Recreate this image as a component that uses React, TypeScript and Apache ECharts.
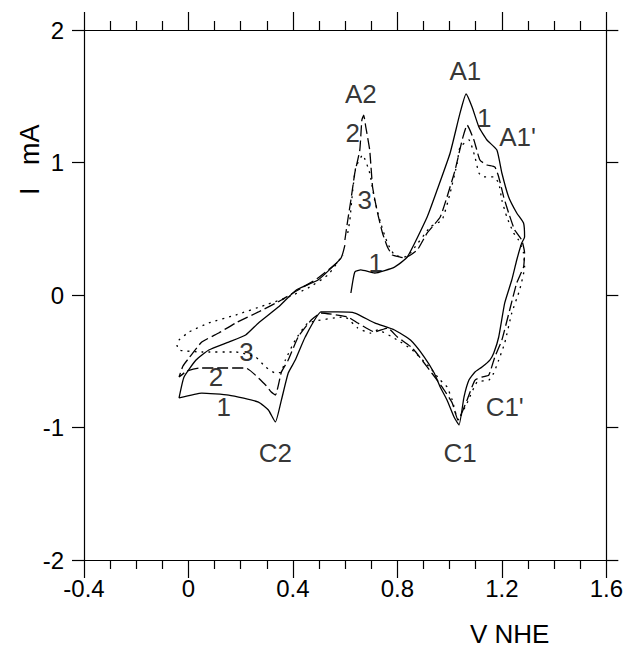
import React, { useEffect, useRef } from "react";
import * as echarts from "echarts";

const FONT = "'Liberation Sans', Arial, Helvetica, sans-serif";

// Cycle 1 (solid)
const cycle1: number[][] = [
  [0.622, 0.015], [0.637, 0.174], [0.66, 0.189], [0.713, 0.166], [0.789, 0.211], [0.838, 0.287],
  [0.914, 0.589], [0.952, 0.792], [1.002, 1.072], [1.04, 1.374], [1.063, 1.517], [1.086, 1.419],
  [1.112, 1.268], [1.143, 1.17], [1.181, 1.094], [1.2, 0.921], [1.226, 0.74], [1.257, 0.619],
  [1.283, 0.543], [1.287, 0.438], [1.276, 0.392], [1.257, 0.264], [1.238, 0.113], [1.211, -0.06],
  [1.188, -0.317], [1.169, -0.438], [1.154, -0.491], [1.124, -0.543], [1.097, -0.581], [1.074, -0.642],
  [1.055, -0.77], [1.036, -0.981], [1.017, -0.921], [0.99, -0.792], [0.964, -0.694], [0.941, -0.589],
  [0.903, -0.468], [0.85, -0.34], [0.789, -0.264], [0.713, -0.211], [0.637, -0.136], [0.572, -0.128],
  [0.508, -0.128], [0.447, -0.317], [0.409, -0.491], [0.382, -0.589], [0.356, -0.792], [0.333, -0.958],
  [0.306, -0.868], [0.268, -0.808], [0.154, -0.755], [0.051, -0.74], [-0.036, -0.777], [-0.017, -0.619],
  [0.029, -0.491], [0.078, -0.415], [0.154, -0.355], [0.219, -0.302], [0.268, -0.211], [0.344, -0.091],
  [0.413, 0.038], [0.496, 0.113], [0.584, 0.279], [0.599, 0.377],
];

// Cycle 2 (dashed)
const cycle2: number[][] = [
  [0.599, 0.415], [0.61, 0.566], [0.622, 0.717], [0.637, 0.921], [0.656, 1.094], [0.664, 1.321],
  [0.671, 1.358], [0.679, 1.268], [0.694, 1.094], [0.705, 0.815], [0.724, 0.619], [0.743, 0.468],
  [0.762, 0.362], [0.781, 0.302], [0.808, 0.287], [0.827, 0.279], [0.876, 0.34], [0.914, 0.468],
  [0.964, 0.589], [0.99, 0.74], [1.021, 0.943], [1.048, 1.17], [1.067, 1.283], [1.093, 1.17],
  [1.116, 1.019], [1.143, 0.981], [1.173, 0.966], [1.188, 0.891], [1.207, 0.74], [1.226, 0.619],
  [1.249, 0.491], [1.276, 0.415], [1.287, 0.317], [1.283, 0.211], [1.257, 0.091], [1.23, -0.113],
  [1.2, -0.34], [1.173, -0.468], [1.15, -0.604], [1.124, -0.619], [1.097, -0.642], [1.067, -0.792],
  [1.04, -0.921], [1.032, -0.943], [1.01, -0.815], [0.979, -0.717], [0.952, -0.642], [0.914, -0.543],
  [0.857, -0.4], [0.8, -0.317], [0.762, -0.249], [0.713, -0.279], [0.648, -0.211], [0.61, -0.166],
  [0.508, -0.136], [0.47, -0.189], [0.42, -0.317], [0.382, -0.491], [0.356, -0.581], [0.333, -0.755],
  [0.317, -0.732], [0.295, -0.679], [0.219, -0.551], [0.127, -0.551], [0.04, -0.551], [-0.006, -0.574],
  [-0.036, -0.619], [-0.021, -0.536], [0.002, -0.475], [0.051, -0.355], [0.116, -0.287], [0.181, -0.211],
  [0.268, -0.128], [0.356, -0.038], [0.413, 0.03], [0.496, 0.128], [0.572, 0.249],
];

// Cycle 3 (dotted)
const cycle3: number[][] = [
  [0.61, 0.468], [0.618, 0.566], [0.629, 0.792], [0.641, 0.966], [0.667, 1.057], [0.694, 0.921],
  [0.713, 0.717], [0.736, 0.543], [0.762, 0.392], [0.789, 0.302], [0.827, 0.287], [0.85, 0.317],
  [0.926, 0.513], [0.971, 0.566], [1.002, 0.77], [1.029, 0.996], [1.04, 1.117], [1.074, 1.17],
  [1.097, 1.042], [1.112, 0.921], [1.131, 0.891], [1.169, 0.891], [1.188, 0.845], [1.2, 0.717],
  [1.219, 0.589], [1.245, 0.468], [1.264, 0.415], [1.283, 0.317], [1.287, 0.211], [1.268, 0.038],
  [1.238, -0.136], [1.211, -0.362], [1.188, -0.491], [1.169, -0.589], [1.15, -0.642], [1.105, -0.657],
  [1.067, -0.815], [1.04, -0.921], [1.032, -0.943], [1.01, -0.792], [0.99, -0.694], [0.964, -0.642],
  [0.926, -0.551], [0.857, -0.415], [0.8, -0.34], [0.724, -0.264], [0.698, -0.287], [0.648, -0.249],
  [0.599, -0.166], [0.458, -0.211], [0.409, -0.34], [0.371, -0.491], [0.356, -0.581], [0.333, -0.589],
  [0.295, -0.543], [0.257, -0.468], [0.181, -0.43], [0.051, -0.43], [-0.036, -0.415], [-0.044, -0.377],
  [-0.036, -0.34], [0.002, -0.279], [0.078, -0.211], [0.181, -0.151], [0.295, -0.075], [0.382, -0.015],
  [0.458, 0.053], [0.534, 0.151], [0.591, 0.302],
];

// Peak / curve annotations: [V, I, text]
const annotations: [number, number, string][] = [
  [0.66, 1.52, "A2"],
  [1.06, 1.69, "A1"],
  [1.133, 1.336, "1"],
  [1.26, 1.19, "A1'"],
  [0.629, 1.223, "2"],
  [0.675, 0.717, "3"],
  [0.717, 0.242, "1"],
  [0.222, -0.43, "3"],
  [0.105, -0.619, "2"],
  [0.135, -0.845, "1"],
  [0.333, -1.19, "C2"],
  [1.04, -1.19, "C1"],
  [1.211, -0.845, "C1'"],
];

const xTicks = { min: -0.4, max: 1.6, interval: 0.4 };
const yTicks = { min: -2, max: 2, interval: 1 };
const xTitle = "V NHE";
const yTitle = "I   mA";

export default function App() {
  const ref = useRef<HTMLDivElement>(null);
  useEffect(() => {
    if (!ref.current) return;
    const chart = echarts.init(ref.current, undefined, { renderer: "svg" });
    const axisLine = { show: true, onZero: false, lineStyle: { color: "#000", width: 1.2 } };
    const tickStyle = { color: "#000", width: 1.2 };
    const lineSeries = (name: string, data: number[][], type: any) => ({
      name,
      type: "line",
      data,
      showSymbol: false,
      symbol: "none",
      smooth: 0.15,
      lineStyle: { color: "#000", width: 1.3, type },
      z: 3,
    });
    chart.setOption({
      animation: false,
      backgroundColor: "#fff",
      grid: { left: 84, right: 16, top: 30, bottom: 92, containLabel: false },
      xAxis: [
        {
          type: "value",
          position: "bottom",
          ...xTicks,
          axisLine,
          axisTick: { show: true, inside: false, length: 18, lineStyle: tickStyle },
          minorTick: { show: true, splitNumber: 4, length: 9, lineStyle: tickStyle },
          splitLine: { show: false },
          axisLabel: {
            color: "#000",
            fontSize: 24,
            fontFamily: FONT,
            margin: 16,
            formatter: (v: number) => String(Math.round(v * 10) / 10),
          },
        },
        {
          type: "value",
          position: "top",
          ...xTicks,
          axisLine,
          axisTick: { show: true, inside: false, length: 18, lineStyle: tickStyle },
          minorTick: { show: true, splitNumber: 4, length: 9, lineStyle: tickStyle },
          splitLine: { show: false },
          axisLabel: { show: false },
        },
      ],
      yAxis: [
        {
          type: "value",
          position: "left",
          ...yTicks,
          axisLine,
          axisTick: { show: true, inside: false, length: 12, lineStyle: tickStyle },
          splitLine: { show: false },
          axisLabel: { color: "#000", fontSize: 24, fontFamily: FONT, margin: 20 },
        },
        {
          type: "value",
          position: "right",
          ...yTicks,
          axisLine,
          axisTick: { show: true, inside: false, length: 12, lineStyle: tickStyle },
          splitLine: { show: false },
          axisLabel: { show: false },
        },
      ],
      graphic: [
        {
          type: "text",
          x: 470,
          y: 621,
          style: { text: xTitle, fill: "#000", font: `26px ${FONT}` },
        },
        {
          type: "text",
          x: 16,
          y: 195,
          rotation: Math.PI / 2,
          style: { text: yTitle, fill: "#000", font: `27px ${FONT}` },
        },
      ],
      series: [
        lineSeries("1", cycle1, "solid"),
        lineSeries("2", cycle2, [11, 4]),
        lineSeries("3", cycle3, [2, 5]),
        {
          type: "scatter",
          data: annotations,
          symbolSize: 0,
          silent: true,
          z: 5,
          label: {
            show: true,
            position: "inside",
            formatter: (p: any) => p.data[2],
            color: "#000",
            fontSize: 26,
            fontFamily: FONT,
          },
        },
      ],
    });
    return () => chart.dispose();
  }, []);
  return (
    <div
      ref={ref}
      style={{ position: "absolute", left: 0, top: 0, width: 626, height: 652 }}
    />
  );
}
